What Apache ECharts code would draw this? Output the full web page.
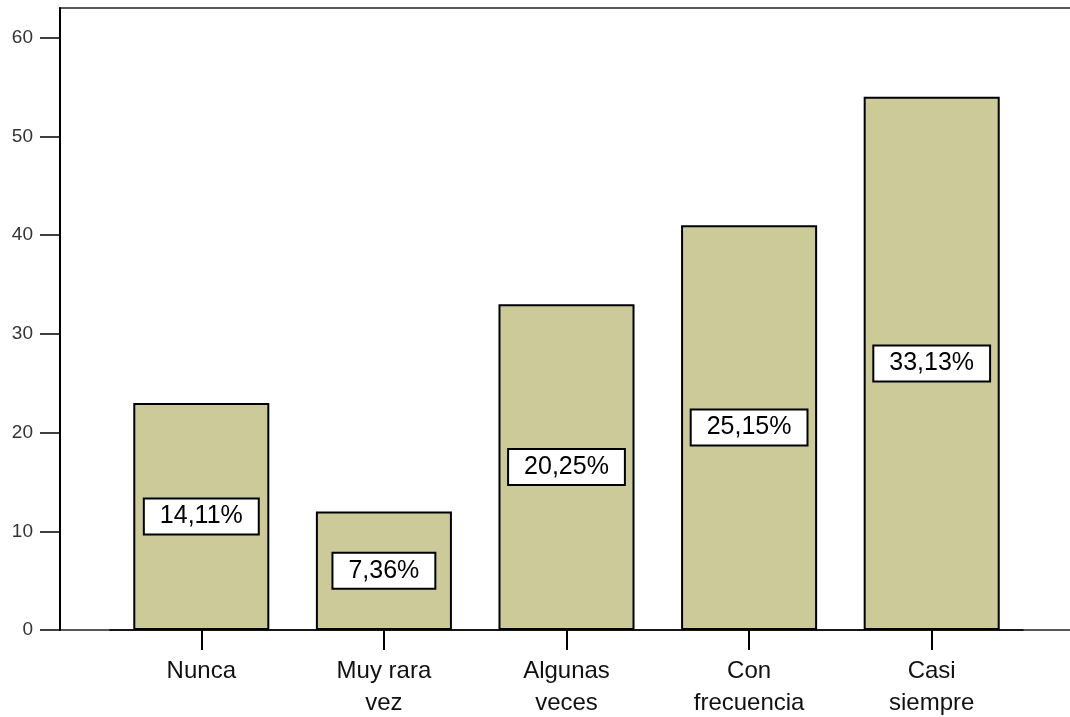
<!DOCTYPE html>
<html>
<head>
<meta charset="utf-8">
<script src="https://cdn.jsdelivr.net/npm/echarts@6/dist/echarts.min.js"></script>
<style>
  html, body { margin: 0; padding: 0; background: #fff; }
  #chart { width: 1070px; height: 717px; }
</style>
</head>
<body>
<div id="chart"></div>
<script>
// ---- data ----
const categories = ['Nunca', 'Muy rara vez', 'Algunas veces', 'Con frecuencia', 'Casi siempre'];
const counts = [23, 12, 33, 41, 54];
const yTicks = [0, 10, 20, 30, 40, 50, 60];

const total = counts.reduce((a, b) => a + b, 0);
const pctLabel = v => (v / total * 100).toFixed(2).replace('.', ',') + '%';

const chart = echarts.init(document.getElementById('chart'));
const font = 'Liberation Sans, Arial, sans-serif';

chart.setOption({
  animation: false,
  backgroundColor: '#fff',
  grid: [
    { left: 110, right: 47, top: 8, bottom: 87, show: false, outerBoundsMode: 'none', containLabel: false },
    { left: 60, right: -10, top: 8, bottom: 87, show: true, outerBoundsMode: 'none', borderColor: '#222', borderWidth: 1.5, backgroundColor: 'transparent' }
  ],
  xAxis: [
    {
      type: 'category',
      gridIndex: 0,
      data: categories,
      axisLine: { show: true, lineStyle: { color: '#000', width: 1.5 } },
      axisTick: { show: true, alignWithLabel: true, length: 20, lineStyle: { color: '#000', width: 2 } },
      axisLabel: {
        margin: 25,
        color: '#111',
        fontFamily: font,
        fontSize: 24,
        lineHeight: 32,
        formatter: s => {
          const i = s.lastIndexOf(' ');
          return i < 0 ? s : s.slice(0, i) + '\n' + s.slice(i + 1);
        }
      }
    },
    { type: 'value', gridIndex: 1, show: false, min: 0, max: 1 }
  ],
  yAxis: [
    {
      type: 'value',
      gridIndex: 0,
      min: 0,
      max: 63,
      interval: 10,
      offset: 50,
      splitLine: { show: false },
      axisLine: { show: true, lineStyle: { color: '#000', width: 2 } },
      axisTick: { show: true, length: 20, customValues: yTicks, lineStyle: { color: '#000', width: 1.5 } },
      axisLabel: { customValues: yTicks, margin: 27, color: '#333', fontFamily: font, fontSize: 19 }
    },
    { type: 'value', gridIndex: 1, show: false, min: 0, max: 1 }
  ],
  series: [{
    type: 'bar',
    xAxisIndex: 0,
    yAxisIndex: 0,
    data: counts,
    barWidth: '74.5%',
    itemStyle: { color: '#CCCA98', borderColor: '#000', borderWidth: 2 },
    label: {
      show: true,
      position: 'inside',
      formatter: p => pctLabel(p.value),
      color: '#000',
      fontFamily: font,
      fontSize: 25,
      backgroundColor: '#fff',
      borderColor: '#000',
      borderWidth: 2,
      padding: [5, 15, 4, 15]
    }
  }]
});
</script>
</body>
</html>
